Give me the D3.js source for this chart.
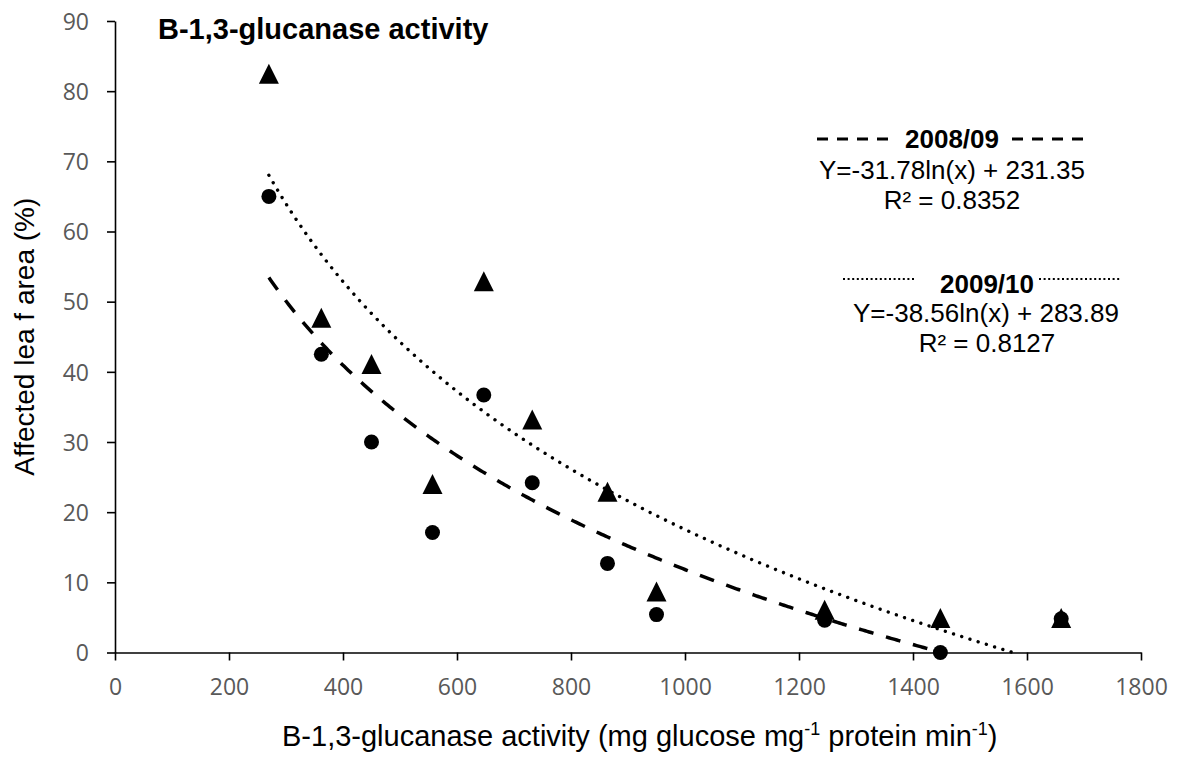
<!DOCTYPE html>
<html>
<head>
<meta charset="utf-8">
<script src="https://cdn.jsdelivr.net/npm/d3@7"></script>
<style>
  html, body { margin: 0; padding: 0; background: #fff; }
  svg { display: block; }
  .tick text { font-family: "Open Sans", sans-serif; font-size: 23px; fill: #595959; }
  .lbl { font-family: "Liberation Sans", Arial, sans-serif; fill: #000; }
</style>
</head>
<body>
<svg id="chart" width="1182" height="760"></svg>
<script>
// Enzyme activity (x) shared by both seasons
const activity = [270, 362, 450, 557, 647, 732, 864, 950, 1245, 1448, 1660];
// Affected leaf area (%) per season
const season0809 = [65.0, 42.5, 30.0, 17.1, 36.7, 24.2, 12.7, 5.4, 4.6, 0.0, 4.8];
const season0910 = [82.5, 47.7, 41.1, 24.0, 52.9, 33.2, 22.9, 8.7, 6.1, 4.9, 4.9];
// Logarithmic fits: y = a*ln(x) + b
const fit0809 = { a: -31.78, b: 231.35, r2: "0.8352" };
const fit0910 = { a: -38.56, b: 283.89, r2: "0.8127" };
const xTicks = [0, 200, 400, 600, 800, 1000, 1200, 1400, 1600, 1800];
const yTicks = [0, 10, 20, 30, 40, 50, 60, 70, 80, 90];

const svg = d3.select("#chart");
const x = d3.scaleLinear().domain([0, 1800]).range([115, 1141]);
const y = d3.scaleLinear().domain([0, 90]).range([652.5, 21]);

// Axes
const fmt = d3.format("d");
const xAxis = d3.axisBottom(x).tickValues(xTicks).tickFormat(fmt)
  .tickSize(8).tickSizeOuter(0).tickPadding(18);
const yAxis = d3.axisLeft(y).tickValues(yTicks).tickFormat(fmt)
  .tickSize(8).tickSizeOuter(0).tickPadding(18);

const gx = svg.append("g").attr("transform", `translate(0,${y(0)})`).call(xAxis);
const gy = svg.append("g").attr("transform", `translate(${x(0)},0)`).call(yAxis);
[gx, gy].forEach(g => {
  g.selectAll("path.domain").attr("stroke", "#000").attr("stroke-width", 1.6);
  g.selectAll(".tick line").attr("stroke", "#000").attr("stroke-width", 1.6);
});
gy.selectAll(".tick text").attr("dy", "0.36em");

// Fitted curves, clipped at the x axis
function fitPoints(fit) {
  const [x0, x1] = d3.extent(activity);
  const pts = [];
  const n = 400;
  for (let i = 0; i <= n; i++) {
    const xv = x0 + (x1 - x0) * i / n;
    const yv = fit.a * Math.log(xv) + fit.b;
    if (yv < 0) {
      const root = Math.exp(-fit.b / fit.a);
      pts.push([root, 0]);
      break;
    }
    pts.push([xv, yv]);
  }
  return pts;
}
const line = d3.line().x(d => x(d[0])).y(d => y(d[1]));

svg.append("path").datum(fitPoints(fit0910))
  .attr("d", line).attr("fill", "none").attr("stroke", "#000")
  .attr("stroke-width", 3.4).attr("stroke-linecap", "round")
  .attr("stroke-dasharray", "0.01,8.6");

svg.append("path").datum(fitPoints(fit0809))
  .attr("d", line).attr("fill", "none").attr("stroke", "#000")
  .attr("stroke-width", 3.5).attr("stroke-dasharray", "15,13");

// Markers: triangles for 2009/10, circles for 2008/09
const triW = 20, triH = 20;
const tri = `M0,${-triH / 2}L${triW / 2},${triH / 2}L${-triW / 2},${triH / 2}Z`;
svg.append("g").selectAll("path")
  .data(activity.map((a, i) => [a, season0910[i]]))
  .join("path")
  .attr("d", tri)
  .attr("transform", d => `translate(${x(d[0])},${y(d[1])})`)
  .attr("fill", "#000");

svg.append("g").selectAll("circle")
  .data(activity.map((a, i) => [a, season0809[i]]))
  .join("circle")
  .attr("cx", d => x(d[0])).attr("cy", d => y(d[1]))
  .attr("r", 7.5).attr("fill", "#000");

// Title
svg.append("text").attr("class", "lbl")
  .attr("x", 158).attr("y", 39)
  .attr("font-size", 29).attr("font-weight", "bold")
  .text("B-1,3-glucanase activity");

// Axis titles
svg.append("text").attr("class", "lbl")
  .attr("transform", `translate(34,${(y(0) + y(90)) / 2}) rotate(-90)`)
  .attr("text-anchor", "middle").attr("font-size", 28)
  .text("Affected lea f area (%)");

const xl = svg.append("text").attr("class", "lbl")
  .attr("x", 282).attr("y", 746).attr("font-size", 29);
xl.append("tspan").text("B-1,3-glucanase activity (mg glucose mg");
xl.append("tspan").attr("font-size", 18).attr("dy", -11).text("-1");
xl.append("tspan").attr("dy", 11).text(" protein min");
xl.append("tspan").attr("font-size", 18).attr("dy", -11).text("-1");
xl.append("tspan").attr("dy", 11).text(")");

// Fit annotations
function fitLabel(fit) {
  return `Y=${fit.a.toFixed(2)}ln(x) + ${fit.b.toFixed(2)}`;
}
const ann = svg.append("g").attr("class", "lbl");

// 2008/09
ann.append("line").attr("x1", 817).attr("x2", 896).attr("y1", 139).attr("y2", 139)
  .attr("stroke", "#000").attr("stroke-width", 3).attr("stroke-dasharray", "11,9");
ann.append("line").attr("x1", 1012).attr("x2", 1092).attr("y1", 139).attr("y2", 139)
  .attr("stroke", "#000").attr("stroke-width", 3).attr("stroke-dasharray", "11,9");
ann.append("text").attr("x", 952).attr("y", 148).attr("text-anchor", "middle")
  .attr("font-size", 26).attr("font-weight", "bold").text("2008/09");
ann.append("text").attr("x", 952).attr("y", 179).attr("text-anchor", "middle")
  .attr("font-size", 26).text(fitLabel(fit0809));
ann.append("text").attr("x", 952).attr("y", 209).attr("text-anchor", "middle")
  .attr("font-size", 26).text(`R² = ${fit0809.r2}`);

// 2009/10
ann.append("line").attr("x1", 843).attr("x2", 916).attr("y1", 279).attr("y2", 279)
  .attr("stroke", "#000").attr("stroke-width", 2).attr("stroke-dasharray", "2,2.6");
ann.append("line").attr("x1", 1039).attr("x2", 1120).attr("y1", 279).attr("y2", 279)
  .attr("stroke", "#000").attr("stroke-width", 2).attr("stroke-dasharray", "2,2.6");
ann.append("text").attr("x", 987).attr("y", 293).attr("text-anchor", "middle")
  .attr("font-size", 26).attr("font-weight", "bold").text("2009/10");
ann.append("text").attr("x", 986).attr("y", 322).attr("text-anchor", "middle")
  .attr("font-size", 26).text(fitLabel(fit0910));
ann.append("text").attr("x", 987).attr("y", 352).attr("text-anchor", "middle")
  .attr("font-size", 26).text(`R² = ${fit0910.r2}`);
</script>
</body>
</html>
